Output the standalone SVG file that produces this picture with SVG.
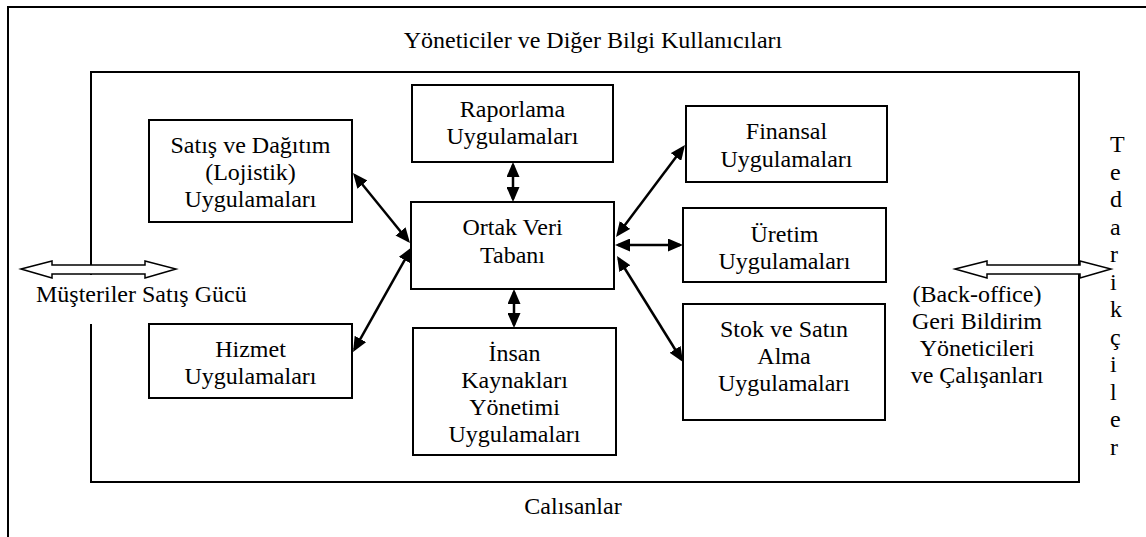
<svg xmlns="http://www.w3.org/2000/svg" width="1146" height="537" viewBox="0 0 1146 537">
  <style>
    .frame { fill: none; stroke: #000; stroke-width: 2; }
    .box { fill: #fff; stroke: #000; stroke-width: 2; }
    .lbl { font-family: "Liberation Serif", "Times New Roman", "DejaVu Serif", serif; font-size: 24px; fill: #000; }
    .mid { text-anchor: middle; }
    .link { stroke: #000; stroke-width: 2.5; fill: none; marker-start: url(#head); marker-end: url(#head); }
    .block { fill: #fff; stroke: #000; stroke-width: 1.5; stroke-linejoin: miter; }
  </style>
  <defs>
    <marker id="head" viewBox="0 0 15 13" markerWidth="15" markerHeight="13" refX="12" refY="6.5" orient="auto-start-reverse" markerUnits="userSpaceOnUse">
      <path d="M0,0 L15,6.5 L0,13 z" fill="#000"/>
    </marker>
  </defs>

  <rect width="1146" height="537" fill="#fff"/>

  <!-- outer frame: users and managers -->
  <g id="outer">
    <path class="frame" d="M8,537 V7 H1146"/>
    <text class="lbl mid" x="593" y="48">Yöneticiler ve Diğer Bilgi Kullanıcıları</text>
  </g>

  <!-- inner frame: employees -->
  <g id="inner">
    <rect class="frame" x="91" y="72" width="988" height="410"/>
    <text class="lbl mid" x="573" y="514">Calısanlar</text>
  </g>

  <!-- customers / sales force on the left -->
  <g id="customers">
    <rect x="30" y="275" width="225" height="49" fill="#fff"/>
    <polygon class="block" points="21,269 52,261 52,265 145,265 145,261 176,269 145,278 145,274 52,274 52,278"/>
    <text class="lbl" x="36" y="302">Müşteriler Satış Gücü</text>
  </g>

  <!-- back office on the right -->
  <g id="backoffice">
    <polygon class="block" points="955,269 987,261 987,265 1080,265 1080,261 1111,269 1080,278 1080,274 987,274 987,278"/>
    <text class="lbl mid" x="977" y="302">(Back-office)</text>
    <text class="lbl mid" x="977" y="329">Geri Bildirim</text>
    <text class="lbl mid" x="977" y="356">Yöneticileri</text>
    <text class="lbl mid" x="977" y="383">ve Çalışanları</text>
  </g>

  <!-- suppliers, written one letter per line -->
  <g id="suppliers" class="lbl">
    <text x="1110" y="152">T</text>
    <text x="1110" y="179.5">e</text>
    <text x="1110" y="207">d</text>
    <text x="1110" y="234.5">a</text>
    <text x="1110" y="262">r</text>
    <text x="1110" y="289.5">i</text>
    <text x="1110" y="317">k</text>
    <text x="1110" y="344.5">ç</text>
    <text x="1110" y="372">i</text>
    <text x="1110" y="399.5">l</text>
    <text x="1110" y="427">e</text>
    <text x="1110" y="454.5">r</text>
  </g>

  <g id="sales">
    <rect class="box" x="149" y="120" width="203" height="102"/>
    <text class="lbl mid" x="250.5" y="153">Satış ve Dağıtım</text>
    <text class="lbl mid" x="250.5" y="180">(Lojistik)</text>
    <text class="lbl mid" x="250.5" y="207">Uygulamaları</text>
  </g>

  <g id="service">
    <rect class="box" x="149" y="324" width="203" height="74"/>
    <text class="lbl mid" x="250.5" y="357">Hizmet</text>
    <text class="lbl mid" x="250.5" y="384">Uygulamaları</text>
  </g>

  <g id="reporting">
    <rect class="box" x="412" y="85" width="201" height="77"/>
    <text class="lbl mid" x="512.5" y="117">Raporlama</text>
    <text class="lbl mid" x="512.5" y="144">Uygulamaları</text>
  </g>

  <g id="database">
    <rect class="box" x="411" y="202" width="203" height="87"/>
    <text class="lbl mid" x="512.5" y="235">Ortak Veri</text>
    <text class="lbl mid" x="512.5" y="263">Tabanı</text>
  </g>

  <g id="hr">
    <rect class="box" x="413" y="328" width="203" height="127"/>
    <text class="lbl mid" x="514.5" y="361">İnsan</text>
    <text class="lbl mid" x="514.5" y="388">Kaynakları</text>
    <text class="lbl mid" x="514.5" y="415">Yönetimi</text>
    <text class="lbl mid" x="514.5" y="442">Uygulamaları</text>
  </g>

  <g id="finance">
    <rect class="box" x="686" y="106" width="201" height="76"/>
    <text class="lbl mid" x="786.5" y="139">Finansal</text>
    <text class="lbl mid" x="786.5" y="167">Uygulamaları</text>
  </g>

  <g id="production">
    <rect class="box" x="683" y="208" width="203" height="74"/>
    <text class="lbl mid" x="784.5" y="242">Üretim</text>
    <text class="lbl mid" x="784.5" y="269">Uygulamaları</text>
  </g>

  <g id="stock">
    <rect class="box" x="683" y="304" width="202" height="116"/>
    <text class="lbl mid" x="784" y="337">Stok ve Satın</text>
    <text class="lbl mid" x="784" y="364">Alma</text>
    <text class="lbl mid" x="784" y="391">Uygulamaları</text>
  </g>

  <!-- two-way links between the shared database and the applications -->
  <g id="connectors">
    <line class="link" x1="354.9" y1="175.3" x2="408.1" y2="240.7"/>
    <line class="link" x1="354.5" y1="349.4" x2="410.5" y2="249.6"/>
    <line class="link" x1="513" y1="165" x2="513" y2="199"/>
    <line class="link" x1="514" y1="292" x2="514" y2="325"/>
    <line class="link" x1="617.8" y1="234.6" x2="683.2" y2="147.4"/>
    <line class="link" x1="618" y1="245" x2="680" y2="245"/>
    <line class="link" x1="618.6" y1="258.5" x2="681.4" y2="359.5"/>
  </g>
</svg>
